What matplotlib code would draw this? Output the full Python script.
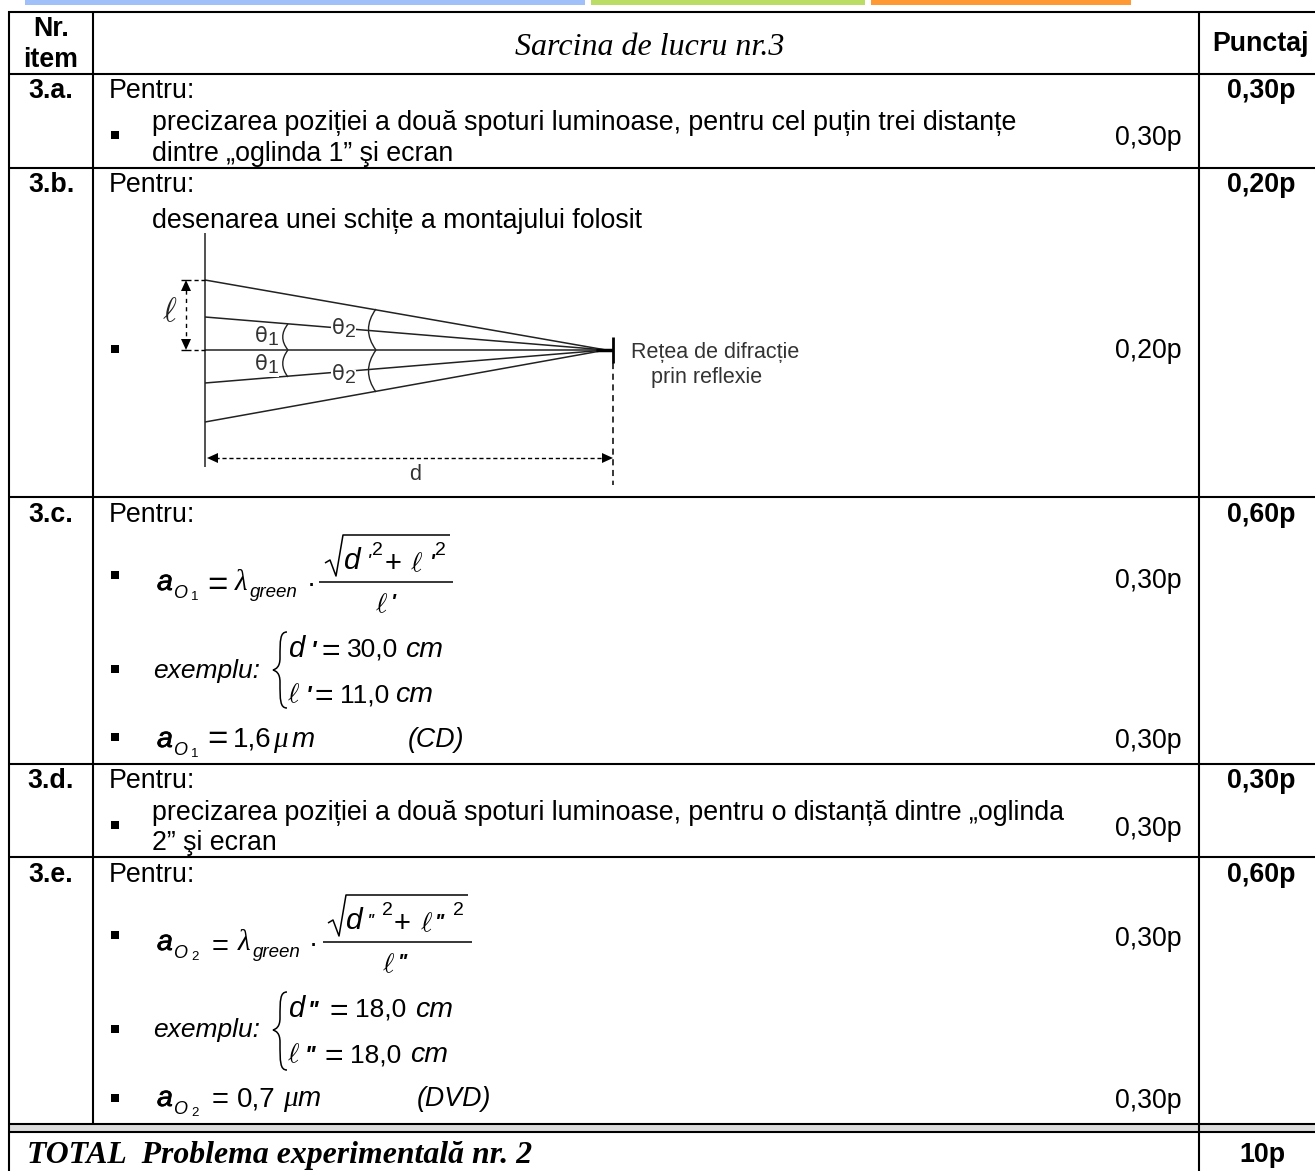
import matplotlib
matplotlib.use("Agg")
import matplotlib.pyplot as plt
import matplotlib.patheffects as pe
from matplotlib.path import Path
from matplotlib.patches import PathPatch, Rectangle

plt.rcParams["mathtext.fontset"] = "cm"
SANS = "Liberation Sans"
SERIF = "Liberation Serif"
FS = 19.3

header_labels = ["Nr.", "item", "Sarcina de lucru nr.3", "Punctaj"]
item_labels = ["3.a.", "3.b.", "3.c.", "3.d.", "3.e."]
item_scores = ["0,30p", "0,20p", "0,60p", "0,30p", "0,60p"]
item_baselines = [98, 192, 522, 788, 882]
row_lines = [74, 168, 497, 764, 857, 1123.5, 1132]
task_intro = "Pentru:"
task_a = ["precizarea poziției a două spoturi luminoase, pentru cel puțin trei distanțe",
          "dintre „oglinda 1” şi ecran"]
task_b = "desenarea unei schițe a montajului folosit"
task_d = ["precizarea poziției a două spoturi luminoase, pentru o distanță dintre „oglinda",
          "2” şi ecran"]
line_scores = [("0,30p", 145), ("0,20p", 358), ("0,30p", 588), ("0,30p", 748), ("0,30p", 836),
               ("0,30p", 946), ("0,30p", 1108)]
total_label = "TOTAL  Problema experimentală nr. 2"
total_score = "10p"
diagram_left_ends = [280, 317, 350, 383, 422]
caption = ["Rețea de difracție", "prin reflexie"]
bars = [(25, 585, "#a0c0fa"), (591, 865, "#bbdd66"), (871, 1131, "#ff9933")]
example_1 = [("d", "'", "30,0"), ("ell", "'", "11,0")]
example_2 = [("d", "''", "18,0"), ("ell", "''", "18,0")]
result_1 = ("1,6", "(CD)")
result_2 = ("0,7", "(DVD)")

fig = plt.figure(figsize=(13.15, 11.71), dpi=100, facecolor="white")
ax = fig.add_axes([0, 0, 1, 1])
ax.set_xlim(0, 1315)
ax.set_ylim(1171, 0)
ax.axis("off")


def T(x, y, s, size=FS, **kw):
    kw.setdefault("family", SANS)
    kw.setdefault("va", "baseline")
    kw.setdefault("color", "black")
    return ax.text(x, y, s, fontsize=size, **kw)


def ELL(x, y, size=20, **kw):
    return T(x, y, r"$\ell$", size, **kw)


def L(xs, ys, lw=1.0, **kw):
    kw.setdefault("color", "black")
    kw.setdefault("solid_capstyle", "butt")
    ax.plot(xs, ys, lw=lw, **kw)


def bullet(y):
    ax.add_patch(Rectangle((111, y - 4.2), 8.5, 8.5, fc="black", ec="none"))


for x0, x1, c in bars:
    ax.add_patch(Rectangle((x0, 0), x1 - x0, 5, fc=c, ec="none"))

# table grid
ax.add_patch(Rectangle((9, 1124), 1306, 8, fc="#dddddd", ec="none", zorder=0))
L([8, 1315], [12, 12], 1.5)
L([9, 9], [11, 1171], 1.5)
L([93, 93], [12, 1124], 1.5)
L([1199, 1199], [12, 1171], 1.5)
for y in row_lines:
    L([9, 1315], [y, y], 1.5)

# headers
T(51, 36, header_labels[0], FS, weight="bold", ha="center")
T(51, 67, header_labels[1], FS, weight="bold", ha="center")
T(650, 55, header_labels[2], 23, family=SERIF, style="italic", ha="center")
T(1261, 51, header_labels[3], FS, weight="bold", ha="center")

for lab, sc, y in zip(item_labels, item_scores, item_baselines):
    T(51, y, lab, FS, weight="bold", ha="center")
    T(1261, y, sc, FS, weight="bold", ha="center")
    T(109, y, task_intro)

for s, y in line_scores:
    T(1182, y, s, ha="right")

# text rows
T(152.5, 130, task_a[0]); T(152.5, 161, task_a[1]); bullet(135)
T(152.5, 228, task_b); bullet(349)
T(152.5, 820, task_d[0]); T(152.5, 850, task_d[1]); bullet(825)

# diagram
DC = "#222222"
L([205, 205], [233, 467], 1.1, color=DC)
apex_x = 606
for y in diagram_left_ends:
    L([205, apex_x], [y, 350], 1.1, color=DC)
L([596, 613], [350, 350], 2.5)
L([613, 613], [337, 363], 2.0)
L([613, 613], [363, 485], 1.1, ls=(0, (4, 3)))
L([194, 205], [280, 280], 1, ls=(0, (3, 2)))
L([194, 205], [350, 350], 1, ls=(0, (3, 2)))
L([186, 186], [290, 340], 1, ls=(0, (3, 3)))
L([215, 604], [458, 458], 1, ls=(0, (3, 2)))
L([181, 191], [280, 280], 1)
L([181, 191], [350, 350], 1)
ax.fill([186, 181, 191], [280, 291, 291], "k", lw=0)
ax.fill([186, 181, 191], [350, 339, 339], "k", lw=0)
ax.fill([207, 218, 218], [458, 453, 463], "k", lw=0)
ax.fill([613, 602, 602], [458, 453, 463], "k", lw=0)
ELL(170, 321, 24, color=DC, ha="center")
T(415, 480, "d", 15.5, ha="center", color="#333333")


def theta(x, y, n):
    t = T(x, y, "θ", 15, family="DejaVu Sans", ha="center", color="#333333")
    t.set_bbox(dict(fc="white", ec="none", pad=0.3))
    t2 = T(x + 12, y + 3, n, 14, ha="center", color="#333333")
    t2.set_bbox(dict(fc="white", ec="none", pad=0.2))


def arc(x, y0, y1, bulge):
    v = [(x + 3, y0), (x - bulge, y0 + (y1 - y0) / 3), (x - bulge, y0 + 2 * (y1 - y0) / 3), (x + 3, y1)]
    ax.add_patch(PathPatch(Path(v, [1, 4, 4, 4]), fc="none", ec=DC, lw=1.0))


theta(261, 342, "1"); theta(261, 370, "1")
theta(338, 334, "2"); theta(338, 380, "2")
arc(285, 324, 350, 4); arc(285, 350, 377, 4)
arc(373, 309, 350, 7); arc(373, 350, 392, 7)
T(631, 358, caption[0], 15.5, color="#333333")
T(651, 383, caption[1], 15.5, color="#333333")


# formulas
HEAVY = [pe.withStroke(linewidth=0.5, foreground="black")]


def a_sub(y, n, sub_y, num_y):
    T(157, y, "a", 20.5, style="italic", path_effects=HEAVY)
    T(173, sub_y, "O", 13, style="italic")
    T(191, num_y, n, 9.5)


def formula(y, n, primes, spec):
    a_sub(y, n, y + 8, y + 10)
    T(spec["eq"], y + 5, "=", spec["eq_size"])
    T(spec["lam"], y, "λ", 21, family=SERIF, style="italic")
    T(spec["lam"] + 15, y + 7, "green", 13.5, style="italic")
    T(spec["dot"], y + 2, "·", 20)
    x0, x1 = spec["frac"]
    fy = spec["fy"]
    L([x0, x1], [fy, fy], 1.1)
    top = spec["top"]
    rx = spec["rad"]
    L([rx, rx + 5, rx + 11, rx + 18, spec["rad_end"]],
      [top + 28, top + 25, top + 41, top, top], 1.1)
    d_base = top + 34
    T(spec["d"], d_base, "d", 21.5, style="italic")
    T(spec["p1"], d_base - 1, primes, 15, style="italic")
    T(spec["two1"], d_base - 14, "2", 14)
    T(spec["plus"], d_base + 3, "+", 21)
    ELL(spec["ell"], d_base + 2, 20)
    T(spec["p2"], d_base - 1, primes, 15, style="italic", weight="bold")
    T(spec["two2"], d_base - 14, "2", 14)
    ELL(spec["den"], y + 22, 20)
    T(spec["den"] + 16, y + 18, primes, 15, style="italic", weight="bold")


def brace(x, y0, y1, tip):
    v = [(x + 14, y0), (x + 7, y0), (x + 7, y0 + 8), (x + 7, tip - 12), (x + 7, tip - 3), (x + 3, tip - 1), (x, tip),
         (x + 3, tip + 1), (x + 7, tip + 3), (x + 7, tip + 12), (x + 7, y1 - 8), (x + 7, y1), (x + 14, y1)]
    ax.add_patch(PathPatch(Path(v, [1] + [4] * 12), fc="none", ec="black", lw=1.1))


def example(rows, base, brace_y, layout):
    T(153, base, "exemplu:", 19, style="italic")
    brace(273, brace_y[0], brace_y[1], brace_y[2])
    for (sym, pr, val), (yy, xs, xp, xe, xv, xc) in zip(rows, layout):
        if sym == "d":
            T(xs, yy, "d", 21, style="italic")
        else:
            ELL(xs, yy, 20)
        T(xp, yy + 1, pr, 17, style="italic", weight="bold")
        T(xe, yy + 3, "=", 23)
        T(xv, yy, val, 19)
        T(xc, yy, "cm", 20.5, style="italic")


def result(y, n, res, xeq, eq_size, xv, xmu, xm, xnote):
    a_sub(y, n, y + 8, y + 10)
    T(xeq, y + 2, "=", eq_size)
    T(xv, y, res[0], 20)
    T(xmu, y, "μ", 21, family=SERIF, style="italic")
    T(xm, y, "m", 20, style="italic")
    T(xnote, y, res[1], FS, style="italic")


formula(590, "1", "'", dict(eq=207, eq_size=25, lam=235, dot=307, frac=(319, 453), fy=582, top=535,
                            rad=325, rad_end=450, d=344, p1=367, two1=372, plus=385, ell=410,
                            p2=430, two2=435, den=375))
bullet(575)
example(example_1, 678, (632, 708, 670),
        [(657, 288, 311, 322, 347, 405), (702, 287, 306, 315, 340, 395)])
bullet(669)
result(747, "1", result_1, 207, 25, 233, 273, 292, 408)
bullet(737)

formula(950, "2", "''", dict(eq=212, eq_size=21, lam=238, dot=309, frac=(323, 472), fy=942, top=895,
                             rad=328, rad_end=468, d=346, p1=367, two1=382, plus=394, ell=420,
                             p2=435, two2=453, den=382))
bullet(935)
example(example_2, 1037, (992, 1070, 1030),
        [(1017, 288, 308, 330, 355, 415), (1062, 287, 305, 325, 350, 410)])
bullet(1029)
result(1106, "2", result_2, 212, 21, 237, 283, 298, 417)
bullet(1098)

T(27, 1163, total_label, 22.9, family=SERIF, style="italic", weight="bold")
T(1262, 1162, total_score, FS, weight="bold", ha="center")

fig.savefig("out.png", dpi=100)
